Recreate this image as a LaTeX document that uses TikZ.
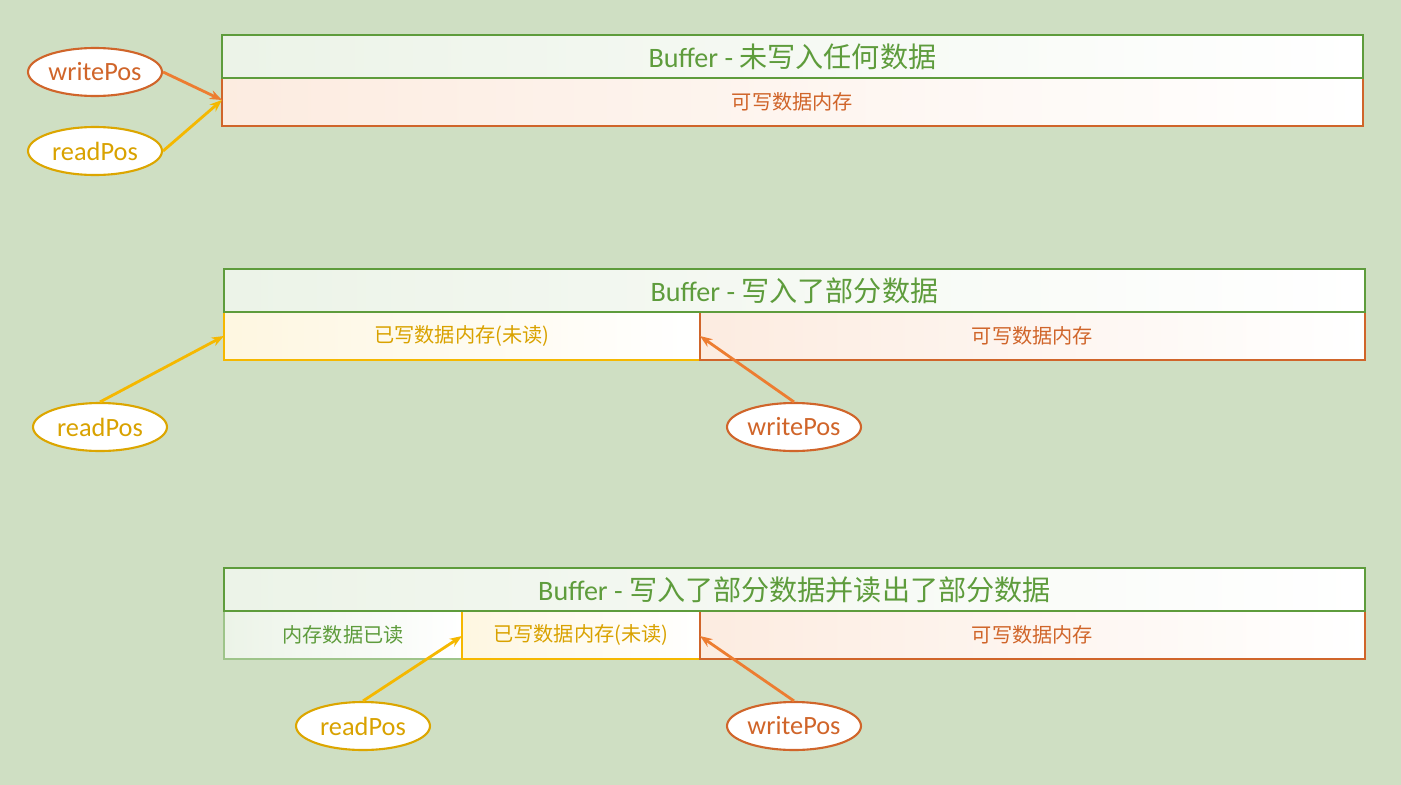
\documentclass[tikz,border=0pt]{standalone}
\usepackage{fontspec}
\setmainfont{Carlito}
\newfontfamily\cjk{Noto Sans CJK SC}
\usetikzlibrary{arrows.meta}
\definecolor{bg}{HTML}{CFDFC3}
\definecolor{grn}{HTML}{5E9C3C}
\definecolor{org}{HTML}{ED7D31}
\definecolor{orgtxt}{HTML}{D0652A}
\definecolor{ylw}{HTML}{F5B800}
\definecolor{ylwtxt}{HTML}{D9A200}
\tikzset{
  titlebox/.style={draw=grn,line width=1.2pt,left color=grn!12,right color=white,text=grn,font=\fontsize{16}{19}\selectfont},
  freecell/.style={draw=orgtxt,line width=0.6pt,left color=org!15,right color=white,text=orgtxt,font=\cjk\fontsize{11.5}{14}\selectfont},
  unreadcell/.style={draw=ylw,line width=0.6pt,left color=ylw!12,right color=white,text=ylwtxt,font=\cjk\fontsize{11.5}{14}\selectfont},
  readcell/.style={draw=grn!60,line width=0.6pt,left color=grn!12,right color=white,text=grn,font=\cjk\fontsize{11.5}{14}\selectfont},
  wpos/.style={ellipse,draw=orgtxt,line width=1.2pt,fill=white,text=orgtxt,minimum width=134\px,minimum height=48\px,inner sep=0pt,font=\fontsize{15}{18}\selectfont},
  rpos/.style={ellipse,draw=ylw!90!black,line width=1.2pt,fill=white,text=ylwtxt,minimum width=134\px,minimum height=48\px,inner sep=0pt,font=\fontsize{15}{18}\selectfont},
  wptr/.style={draw=org,line width=1.6pt,-{Stealth[length=7pt]}},
  rptr/.style={draw=ylw,line width=1.6pt,-{Stealth[length=7pt]}}
}
\newlength{\px}\setlength{\px}{0.02cm}
\usetikzlibrary{shapes.geometric}
\begin{document}
\begin{tikzpicture}[x=0.02cm,y=-0.02cm]
  \fill[bg] (0,0) rectangle (1401,785);
  \useasboundingbox (0,0) rectangle (1401,785);

  % buffer 1
  \path[freecell] (222,78) rectangle (1363,126) node[midway] (free1) {可写数据内存};
  \path[titlebox] (222,35) rectangle (1363,78) node[midway] (title1) {Buffer - {\cjk 未写入任何数据}};
  \coordinate (start1) at (222,100);
  \node[wpos] (w1) at (95,72) {writePos};
  \node[rpos] (r1) at (95,151) {readPos};
  \draw[wptr] (w1.east) -- (start1);
  \draw[rptr] (r1.east) -- (start1);

  % buffer 2
  \path[unreadcell] (224,312) rectangle (700,360) node[midway] (unread2) {已写数据内存(未读)};
  \path[freecell] (700,312) rectangle (1365,360) node[midway] (free2) {可写数据内存};
  \path[titlebox] (224,269) rectangle (1365,312) node[midway] (title2) {Buffer - {\cjk 写入了部分数据}};
  \coordinate (start2) at (224,336);
  \coordinate (split2) at (700,336);
  \node[rpos] (r2) at (100,427) {readPos};
  \node[wpos] (w2) at (794,427) {writePos};
  \draw[rptr] (r2.north) -- (start2);
  \draw[wptr] (w2.north) -- (split2);

  % buffer 3
  \path[readcell] (224,611) rectangle (462,659) node[midway] (read3) {内存数据已读};
  \path[unreadcell] (462,611) rectangle (700,659) node[midway] (unread3) {已写数据内存(未读)};
  \path[freecell] (700,611) rectangle (1365,659) node[midway] (free3) {可写数据内存};
  \path[titlebox] (224,568) rectangle (1365,611) node[midway] (title3) {Buffer - {\cjk 写入了部分数据并读出了部分数据}};
  \coordinate (split3a) at (462,636);
  \coordinate (split3b) at (700,636);
  \node[rpos] (r3) at (363,726) {readPos};
  \node[wpos] (w3) at (794,726) {writePos};
  \draw[rptr] (r3.north) -- (split3a);
  \draw[wptr] (w3.north) -- (split3b);
\end{tikzpicture}
\end{document}
